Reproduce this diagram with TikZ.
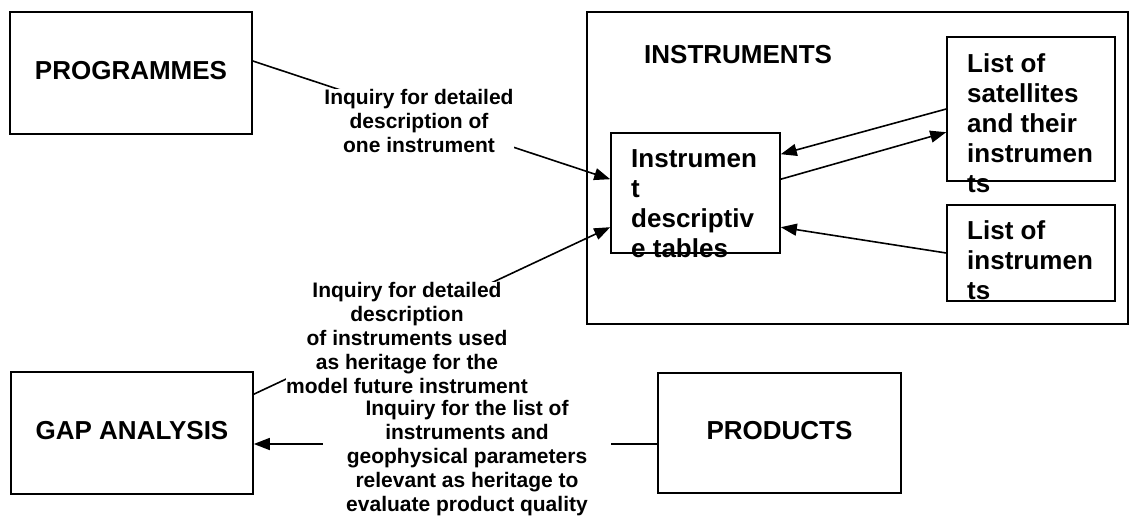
\documentclass[tikz,border=0pt]{standalone}
\usepackage{fontspec}
\setmainfont{Liberation Sans}
\usetikzlibrary{arrows.meta}

\begin{document}
\begin{tikzpicture}[x=1pt,y=-1pt,
    box/.style={draw,line width=1.6pt,inner sep=0pt,text depth=6pt,
        font=\fontsize{26}{30}\selectfont\bfseries},
    boxtext/.style={anchor=north west,inner sep=0pt,align=left,
        font=\fontsize{26}{30}\selectfont\bfseries},
    query/.style={fill=white,inner sep=0pt,align=center,
        font=\fontsize{21}{24}\selectfont\bfseries},
    link/.style={line width=1.6pt,-{Triangle[length=16pt,width=12pt]}}]
    \useasboundingbox (0,0) rectangle (1130,517);

    % outer boxes
    \node[box,minimum width=242pt,minimum height=122pt] (prog) at (131,73) {PROGRAMMES};
    \node[box,minimum width=242pt,minimum height=122pt] (gap) at (132,433) {GAP ANALYSIS};
    \node[box,minimum width=243pt,minimum height=120pt] (prod) at (779.5,433) {PRODUCTS};
    \node[box,minimum width=541pt,minimum height=312pt] (instr) at (857.5,168) {};
    \node[boxtext] (instrname) at (644,45) {INSTRUMENTS};

    % boxes inside INSTRUMENTS
    \node[box,minimum width=169pt,minimum height=120pt] (tables) at (695.5,193) {};
    \node[boxtext] (tablestext) at (631,149) {Instrumen\\t\\descriptiv\\e tables};
    \node[box,minimum width=168pt,minimum height=144pt] (sats) at (1031,109) {};
    \node[boxtext] (satstext) at (967,53) {List of\\satellites\\and their\\instrumen\\ts};
    \node[box,minimum width=168pt,minimum height=96pt] (list) at (1031,253) {};
    \node[boxtext] (listtext) at (967,220) {List of\\instrumen\\ts};

    % connectors
    \draw[link] (sats.west) -- ([yshift=-22pt]tables.north east);
    \draw[link] ([yshift=-47pt]tables.north east) -- ([yshift=-96pt]sats.north west);
    \draw[link] (list.west) -- ([yshift=-95pt]tables.north east);
    \draw[link] ([yshift=12pt]prog.east) -- ([yshift=-47pt]tables.north west);
    \draw[link] ([yshift=-23pt]gap.north east) -- ([yshift=-95pt]tables.north west);
    \draw[link] ([yshift=-11pt]prod.west) -- ([yshift=-11pt]gap.east);

    % labels on the connectors
    \node[query] (q1) at (419,121) {Inquiry for detailed\\description of\\one instrument};
    \node[query] (q2) at (407,338) {Inquiry for detailed\\description\\of instruments used\\as heritage for the\\model future instrument};
    \node[query,inner xsep=23pt] (q3) at (467,458) {Inquiry for the list of\\instruments and\\geophysical parameters\\relevant as heritage to\\evaluate product quality};
\end{tikzpicture}
\end{document}
